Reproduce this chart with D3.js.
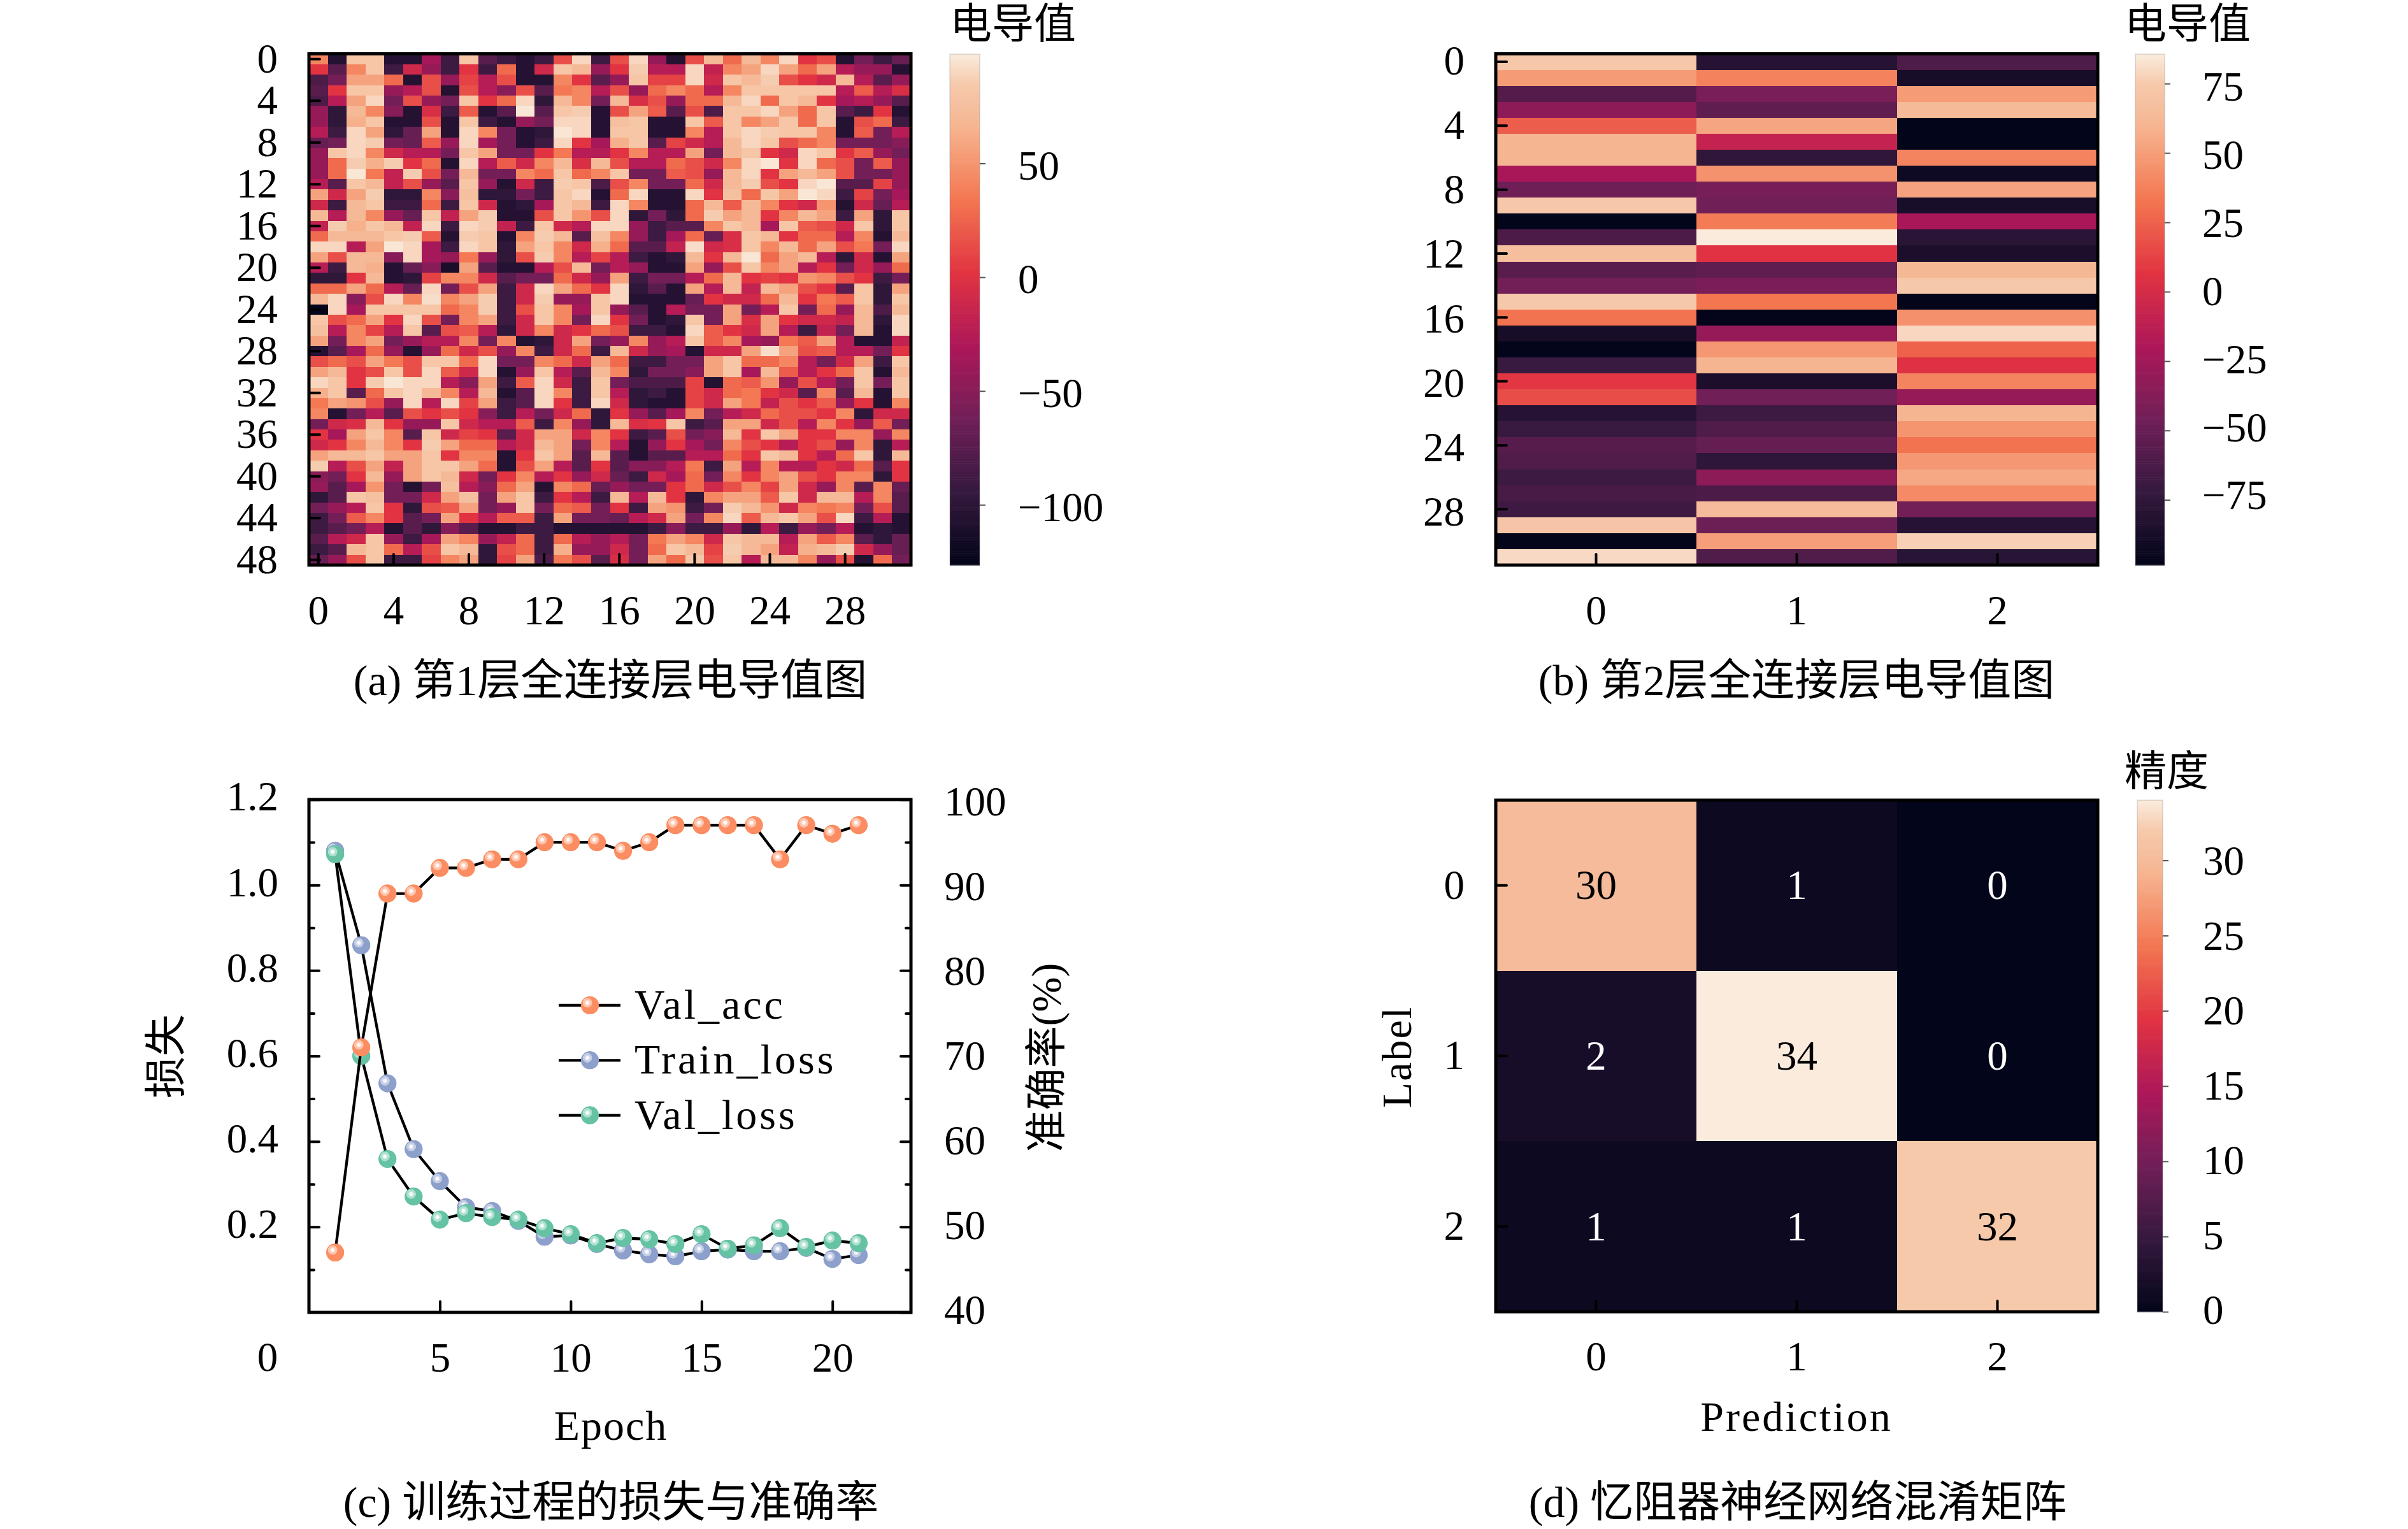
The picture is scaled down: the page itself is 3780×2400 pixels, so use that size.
<!DOCTYPE html>
<html>
<head>
<meta charset="utf-8">
<script src="https://cdn.jsdelivr.net/npm/d3@7/dist/d3.min.js"></script>
<style>
html,body{margin:0;padding:0;background:#fff}
text{font-family:"Liberation Serif","Noto Sans CJK SC",serif;fill:#000}
</style>
</head>
<body>
<svg id="chart" width="3780" height="2400" xmlns="http://www.w3.org/2000/svg"></svg>
<script>
// ---------- DATA ----------
const conductanceLayer1 = [
[42,-105,82,82,-105,-105,-34,-90,82,-75,-90,-105,-90,15,90,-90,15,90,-42,-105,15,70,28,70,42,90,2,15,-105,-60,-90,-68],
[2,-75,42,82,-90,-10,-42,-90,2,-90,28,-105,-10,82,70,-42,2,86,-25,-25,90,-18,42,57,90,57,28,57,-25,-42,-42,-105],
[-82,-60,57,57,28,-105,15,-42,9,-25,15,-105,-105,42,2,-75,-42,82,9,9,90,-10,82,70,86,15,2,-10,70,-25,-75,-42],
[-75,2,82,82,-42,-25,15,-105,15,-25,-50,15,-75,35,42,-25,15,-42,28,42,28,-25,42,82,82,82,82,82,-25,21,-25,-4],
[-82,-25,57,90,-60,15,-42,-60,82,2,28,90,-98,70,42,-60,70,-4,15,-42,28,28,70,90,28,82,70,2,-34,-25,-42,-75],
[-42,-98,70,42,-50,-105,-4,-90,21,-105,-75,96,-75,82,86,-105,15,57,21,-75,15,-82,82,82,90,57,28,82,-75,-90,2,-105],
[-42,-98,64,82,-105,-105,15,-105,82,-90,-105,-42,-60,90,90,-105,76,82,-105,-105,82,21,82,42,57,82,28,82,-105,15,28,-90],
[-25,-90,90,57,-98,-68,57,-105,90,42,-60,-105,-98,96,90,-105,82,82,-105,-105,42,-25,82,90,86,82,82,42,-105,21,-60,-25],
[-68,-60,90,86,-60,-68,21,-42,90,-34,-60,-105,-90,90,2,-34,64,82,-75,9,-10,-25,70,90,82,15,28,42,-60,-60,-60,-50],
[-42,82,90,42,-10,-25,-25,-60,82,57,-60,-60,2,35,-25,-25,2,42,-25,-25,57,-60,70,82,2,-10,90,82,2,21,-42,-60],
[-42,28,86,64,86,2,28,-105,90,-25,21,-10,42,70,-4,70,15,-25,-25,28,15,-10,42,90,96,2,90,28,15,-60,21,-42],
[-42,28,96,35,-18,86,15,-60,70,-60,-60,42,28,82,28,42,82,-60,-60,21,15,-42,70,90,2,57,70,57,15,-60,-60,-42],
[-25,-75,82,70,-18,15,-42,-75,82,-42,-105,-10,-90,86,82,-82,15,42,-60,-60,28,-10,70,86,15,2,90,96,-75,-75,9,-42],
[57,-10,57,86,-98,-98,42,-50,76,-98,-98,-60,-90,82,90,-105,28,90,-105,-105,90,2,76,28,82,57,96,90,-90,9,-60,-34],
[-10,-90,70,82,-90,-90,28,-90,82,-10,-105,-98,-34,82,70,-90,90,42,-105,-105,28,70,21,70,42,2,-10,50,-105,-10,-68,-25],
[70,-25,70,42,-42,-68,82,-18,57,86,-105,-105,15,82,50,15,90,-98,-60,-98,28,86,57,70,2,42,70,57,-90,57,-98,82],
[-18,86,64,82,70,-18,90,-90,90,86,-18,-90,82,-10,-25,90,90,-42,-90,-75,-75,42,82,70,-34,82,21,15,-10,82,-98,82],
[28,70,70,70,82,86,21,-105,86,82,-105,42,86,70,-75,76,42,-42,-90,-34,28,-68,-4,82,70,2,28,28,-25,42,-105,70],
[90,90,-25,57,96,90,-34,-90,90,82,-98,57,82,42,-10,64,28,-75,-75,-18,93,-10,-4,82,42,70,28,57,15,35,-60,90],
[57,15,70,70,-50,90,-34,-42,35,-42,-98,15,86,42,-25,9,-25,-90,-105,-98,70,2,70,96,28,57,70,-25,-98,-10,-105,57],
[-25,-90,70,64,-105,-68,-50,-112,57,-75,-105,-105,-25,15,70,-60,-25,-42,-105,-105,57,-42,15,82,42,57,-25,2,-60,-10,-42,28],
[-98,-98,2,70,-105,-98,9,42,42,-10,-75,-60,-60,28,-10,-42,57,-90,-60,-60,-25,28,70,2,9,2,50,42,15,2,-90,-60],
[28,28,57,28,-25,-68,90,-60,15,57,-90,-10,90,57,28,2,90,-98,-75,-105,57,-25,70,-18,70,57,15,2,-75,82,-98,57],
[70,90,-50,15,90,42,93,42,57,86,-90,-10,86,-42,-42,82,90,-105,-105,-105,-68,2,-10,-10,28,70,2,35,21,82,-98,82],
[-125,90,-34,82,82,82,82,28,42,86,-90,15,82,42,-34,82,-42,-75,-105,-25,-60,-60,57,-60,-25,82,-60,28,-42,70,-82,70],
[82,15,28,57,2,90,15,-60,42,57,-90,-10,82,42,-60,90,2,-60,-105,-98,82,-60,57,-4,57,2,-10,-10,-18,70,-98,90],
[76,-25,42,9,-25,82,-75,15,21,-25,-98,-10,42,-10,2,28,15,-90,-90,-105,90,21,2,-10,57,-25,-90,-18,-60,70,-105,90],
[57,-60,42,57,-60,-42,-25,-25,42,-60,42,-105,-98,-10,57,-60,-42,42,-42,-25,82,21,42,-34,-42,35,21,57,-25,-105,-105,-18],
[-105,-75,-34,28,-42,-105,-42,28,-10,15,-42,42,-90,-10,28,-90,70,-10,-42,-34,-105,-10,-10,57,93,57,15,21,-25,-25,-60,2],
[15,28,15,57,35,15,82,82,28,90,-60,-60,42,28,-10,57,28,-90,-90,-60,-60,57,82,28,28,42,-25,-60,-10,57,-90,82],
[57,70,2,15,82,15,90,21,-10,90,-105,-42,82,-25,-75,70,42,-98,-60,-60,-50,57,82,-34,70,21,-25,2,28,82,-105,70],
[90,82,2,86,96,90,90,-25,-50,57,-90,21,90,-10,-90,82,-60,-82,-82,-82,9,-105,28,21,50,-42,15,-25,-60,82,-60,82],
[64,82,-75,28,82,90,70,42,-25,70,-105,-75,90,42,-90,82,-25,-98,-90,-105,9,-10,28,35,2,-10,-75,42,-75,70,-105,82],
[35,57,50,15,-42,90,-25,90,9,57,-90,-75,90,2,-90,90,-10,-98,-105,-105,9,-10,57,35,-18,15,2,21,-42,2,-105,42],
[42,-105,-60,-25,-75,15,2,15,2,-50,-90,-25,-60,-10,28,-98,2,-42,-75,-34,42,-60,-25,-10,28,15,15,2,42,-98,-10,-10],
[-60,-10,-4,70,2,-42,-42,82,-10,-25,-25,21,-90,42,-42,-98,70,-4,2,82,-90,-75,57,57,-10,15,-25,42,2,-42,21,-60],
[2,-34,57,82,42,-75,82,-10,9,2,-75,-10,57,57,-10,42,2,-90,-75,15,-60,-50,70,2,82,57,2,2,42,42,-42,42],
[-10,2,42,70,42,2,86,57,28,28,-25,-10,70,57,-60,42,-25,-105,-42,2,-34,-60,42,15,2,-25,2,15,-42,42,-98,-25],
[57,70,70,82,57,57,82,2,42,42,-105,2,82,57,-75,70,-75,-105,-75,-75,-25,-25,28,2,82,70,2,-25,28,82,-98,70],
[86,-25,15,57,-18,57,82,82,57,28,-105,15,57,-25,-75,2,-75,-50,-50,-25,35,-90,57,-25,42,-25,-25,2,-10,28,-75,2],
[-50,-60,2,70,-42,57,82,70,-10,-60,2,42,-25,2,-42,-10,-68,-90,-10,-34,28,-60,42,2,42,57,15,2,42,42,-98,2],
[-42,-75,-34,50,-60,-105,-60,76,-25,-50,28,57,-105,42,28,-68,-42,-60,-60,2,28,-10,15,42,9,57,-10,-42,42,-75,42,-68],
[-98,-75,82,76,-60,-60,-10,57,76,-60,57,82,-90,2,-25,-90,70,-25,70,2,-98,42,57,57,21,82,-10,70,70,-25,42,-75],
[-60,-42,-25,82,2,-98,15,21,57,-60,-42,82,-60,28,21,-60,2,-90,57,50,-90,-60,86,70,50,-10,42,35,42,-60,15,-75],
[-90,-60,21,42,2,-75,-60,57,2,-25,21,21,-90,57,-60,-60,-68,-25,-10,57,-60,42,90,21,70,82,57,15,90,-90,-25,-105],
[-90,-75,-60,-25,-105,-75,-98,-50,-75,-105,-105,-90,-90,-105,-105,-105,-105,-105,-90,-50,-90,-90,-42,-98,-25,-90,-42,-60,-25,-105,-98,-105],
[-75,-25,-10,82,-42,-90,-34,57,42,-42,-18,28,-90,28,-25,-42,-25,-60,35,57,42,-10,82,70,70,-25,57,21,42,-75,-98,-68],
[-90,-75,70,82,28,-25,15,82,70,-98,15,28,-90,64,-42,-42,-10,-60,28,82,70,9,86,70,57,-18,64,70,86,-10,-42,-68],
[-68,-42,15,82,-90,-90,9,42,57,-98,9,57,-82,35,15,-75,-4,-60,57,28,82,15,82,-25,70,70,42,-42,15,-105,28,-60]
];
const conductanceLayer2 = [
[73,-80,-61],[49,38,-88],[-58,-42,49],[-34,-53,63],[23,53,-99],[60,-8,-99],[60,-75,39],[-21,45,-92],
[-47,-43,52],[73,-46,-87],[-99,35,-21],[-62,86,-78],[66,6,-86],[-56,-53,62],[-45,-41,74],[74,33,-98],
[32,-98,44],[-88,-29,79],[-98,47,25],[-71,60,5],[8,-85,39],[17,-46,-29],[-80,-69,60],[-71,-60,46],
[-57,-51,32],[-60,-76,47],[-69,-34,54],[-64,-62,42],[-68,64,-45],[72,-48,-80],[-98,50,77],[80,-60,-79]
];
const confusionMatrix = [[30,1,0],[2,34,0],[1,1,32]];

const rowTicksA = [0,4,8,12,16,20,24,28,32,36,40,44,48];
const colTicksA = [0,4,8,12,16,20,24,28];
const rowTicksB = [0,4,8,12,16,20,24,28];
const colTicksB = [0,1,2];
const barTicksA = [50,0,-50,-100];
const barTicksB = [75,50,25,0,-25,-50,-75];
const barTicksD = [30,25,20,15,10,5,0];
const rangeA = [-126.5,98];
const rangeB = [-98.5,85.6];
const rangeD = [0,34];

const epochs = [1,2,3,4,5,6,7,8,9,10,11,12,13,14,15,16,17,18,19,20,21];
const valAcc = [47,71,89,89,92,92,93,93,95,95,95,94,95,97,97,97,97,93,97,96,97];
const trainLoss = [1.08,0.859,0.536,0.382,0.307,0.246,0.237,0.214,0.177,0.18,0.16,0.145,0.136,0.131,0.143,0.147,0.143,0.143,0.151,0.125,0.134];
const valLoss = [1.072,0.6,0.359,0.271,0.217,0.232,0.223,0.217,0.197,0.183,0.162,0.174,0.171,0.16,0.183,0.149,0.157,0.197,0.153,0.168,0.162];
const lossTicks = [0.2,0.4,0.6,0.8,1.0,1.2];
const lossMinor = [0.1,0.3,0.5,0.7,0.9,1.1];
const accTicks = [40,50,60,70,80,90,100];
const accMinor = [45,55,65,75,85,95];
const epochTicks = [5,10,15,20];

const captions = ["(a) 第1层全连接层电导值图","(b) 第2层全连接层电导值图","(c) 训练过程的损失与准确率","(d) 忆阻器神经网络混淆矩阵"];

// ---------- STYLE ----------
const rocketT = [0,1/7,2/7,3/7,4/7,5/7,6/7,0.882,0.941,1];
const rocketC = ["#03051a","#35193e","#701f57","#ad1759","#e13342","#f37651","#f6b48f","#f5bb9a","#f6c9ab","#faebdd"];
const rocket = d3.scaleLinear().domain(rocketT).range(rocketC).clamp(true);
const FS = 65, FSL = 66, FSC = 68, SPINE = 5;

const svg = d3.select("#chart");
svg.append("rect").attr("width",3780).attr("height",2400).attr("fill","#fff");
const defs = svg.append("defs");

function styleAxis(g, size){
  g.select(".domain").remove();
  g.selectAll(".tick line").attr("stroke","#000").attr("stroke-width",4).attr("stroke-linecap","round");
  g.selectAll(".tick text").attr("font-size",size||FS).attr("font-family",'"Liberation Serif",serif').attr("fill","#000");
}
// places tick labels on their own linear spacing: fit = [v0, y0, v1, y1], y of the label centres
function fitLabels(g, pos, fit){
  const s=d3.scaleLinear().domain([fit[0],fit[2]]).range([fit[1],fit[3]]);
  g.selectAll(".tick text").attr("dy","0.338em").attr("y",d=>s(d)-pos(d));
}
function frame(box){
  svg.append("rect").attr("x",box.x0).attr("y",box.y0).attr("width",box.x1-box.x0).attr("height",box.y1-box.y0)
    .attr("fill","none").attr("stroke","#000").attr("stroke-width",SPINE);
}
function label(txt,x,y,o){
  o=o||{};
  const t=svg.append("text").text(txt).attr("font-size",o.size||FSL).attr("text-anchor",o.anchor||"middle");
  if(o.ls) t.attr("letter-spacing",o.ls);
  t.attr("transform",`translate(${x},${y})`+(o.rot?` rotate(${o.rot})`:""));
  return t;
}
function heatmap(box, matrix, range, xTicks, yTicks, xPad, yFit){
  const nR=matrix.length, nC=matrix[0].length;
  const x=d3.scaleBand().domain(d3.range(nC)).range([box.x0,box.x1]);
  const y=d3.scaleBand().domain(d3.range(nR)).range([box.y0,box.y1]);
  const t=d3.scaleLinear().domain(range).range([0,1]);
  const g=svg.append("g");
  matrix.forEach((row,r)=>row.forEach((v,c)=>{
    g.append("rect").attr("x",x(c)).attr("y",y(r)).attr("width",x.bandwidth()+0.5).attr("height",y.bandwidth()+0.5)
      .attr("fill",rocket(t(v))).attr("shape-rendering","crispEdges");
  }));
  const ax=svg.append("g").attr("transform",`translate(0,${box.y1})`)
    .call(d3.axisBottom(x).tickValues(xTicks).tickSizeInner(-17).tickSizeOuter(0).tickPadding(xPad));
  styleAxis(ax);
  const ay=svg.append("g").attr("transform",`translate(${box.x0},0)`)
    .call(d3.axisLeft(y).tickValues(yTicks).tickSizeInner(-17).tickSizeOuter(0).tickPadding(49));
  styleAxis(ay);
  if(yFit) fitLabels(ay,d=>y(d)+y.bandwidth()/2,yFit);
  frame(box);
  return {x,y};
}
function colorbar(x0,x1,y0,y1,range,ticks,pad,fit){
  const y=d3.scaleLinear().domain(range).range([y1,y0]);
  const t=d3.scaleLinear().domain(range).range([0,1]);
  const n=256, g=svg.append("g");
  d3.range(n).forEach(i=>{
    const v0=range[0]+(range[1]-range[0])*i/n, v1=range[0]+(range[1]-range[0])*(i+1)/n;
    g.append("rect").attr("x",x0).attr("width",x1-x0).attr("y",y(v1)).attr("height",y(v0)-y(v1)+0.6)
      .attr("fill",rocket(t((v0+v1)/2)));
  });
  svg.append("rect").attr("x",x0).attr("y",y0).attr("width",x1-x0).attr("height",y1-y0)
    .attr("fill","none").attr("stroke","#999").attr("stroke-opacity",0.35).attr("stroke-width",1.5);
  const a=svg.append("g").attr("transform",`translate(${x1},0)`)
    .call(d3.axisRight(y).tickValues(ticks).tickSizeInner(9).tickSizeOuter(0).tickPadding(pad));
  a.select(".domain").remove();
  a.selectAll(".tick line").attr("stroke","#555").attr("stroke-width",2);
  a.selectAll(".tick text").attr("font-size",FS).attr("font-family",'"Liberation Serif",serif').attr("dy","0.38em");
  if(fit) fitLabels(a,y,fit);
}

// ---------- PANEL A ----------
const boxA={x0:485,x1:1430,y0:84.5,y1:887};
heatmap(boxA,conductanceLayer1,rangeA,colTicksA,rowTicksA,47);
colorbar(1491,1538,85,887,rangeA,barTicksA,51);
label("电导值",1491,60,{anchor:"start"});
label(captions[0],958,1091,{size:FSC});

// ---------- PANEL B ----------
const boxB={x0:2348,x1:3293,y0:84.5,y1:887};
heatmap(boxB,conductanceLayer2,rangeB,colTicksB,rowTicksB,47,[0,95,28,803]);
colorbar(3352,3398,85,887,rangeB,barTicksB,50,[75,136,-75,777]);
label("电导值",3335,60,{anchor:"start"});
label(captions[1],2820,1091,{size:FSC});

// ---------- PANEL C ----------
const boxC={x0:485,x1:1430,y0:1255,y1:2060};
const xC=d3.scaleLinear().domain([0,23]).range([boxC.x0,boxC.x1]);
const yLoss=d3.scaleLinear().domain([0,1.2]).range([boxC.y1,boxC.y0]);
const yAcc=d3.scaleLinear().domain([40,100]).range([boxC.y1,boxC.y0]);

const seriesC=[
  {name:"Train_loss",color:"#8da0cb",halo:"#c3cde4",id:"gBlue",vals:trainLoss,y:yLoss},
  {name:"Val_loss",color:"#66c2a5",halo:"#aee0cf",id:"gGreen",vals:valLoss,y:yLoss},
  {name:"Val_acc",color:"#fc8d62",halo:"#fdc4ab",id:"gOrange",vals:valAcc,y:yAcc}
];
seriesC.forEach(s=>{
  const gr=defs.append("radialGradient").attr("id",s.id).attr("cx","0.36").attr("cy","0.36").attr("r","0.27");
  gr.append("stop").attr("offset","0").attr("stop-color","#fff");
  gr.append("stop").attr("offset","0.3").attr("stop-color","#fff").attr("stop-opacity",0.9);
  gr.append("stop").attr("offset","0.6").attr("stop-color",s.halo);
  gr.append("stop").attr("offset","0.95").attr("stop-color",s.halo);
  gr.append("stop").attr("offset","1").attr("stop-color",s.color);
});
const lineGen=(y)=>d3.line().x((d,i)=>xC(epochs[i])).y(d=>y(d));
seriesC.forEach(s=>{
  svg.append("path").attr("d",lineGen(s.y)(s.vals)).attr("fill","none").attr("stroke","#000").attr("stroke-width",4.3);
  const g=svg.append("g");
  g.selectAll("circle.base").data(s.vals).join("circle").attr("class","base")
    .attr("cx",(d,i)=>xC(epochs[i])).attr("cy",d=>s.y(d)).attr("r",14).attr("fill",s.color);
  g.selectAll("circle.hi").data(s.vals).join("circle").attr("class","hi")
    .attr("cx",(d,i)=>xC(epochs[i])).attr("cy",d=>s.y(d)).attr("r",14).attr("fill",`url(#${s.id})`);
});
// axes of panel C
const cb=svg.append("g").attr("transform",`translate(0,${boxC.y1})`)
  .call(d3.axisBottom(xC).tickValues(epochTicks).tickSizeInner(-17).tickSizeOuter(0).tickPadding(47).tickFormat(d3.format("d")));
styleAxis(cb);
const cl=svg.append("g").attr("transform",`translate(${boxC.x0},0)`)
  .call(d3.axisLeft(yLoss).tickValues(lossTicks).tickSizeInner(-16).tickSizeOuter(0).tickPadding(48).tickFormat(d3.format(".1f")));
styleAxis(cl);
cl.selectAll(".tick text").attr("dy","0.26em");
const clm=svg.append("g").attr("transform",`translate(${boxC.x0},0)`)
  .call(d3.axisLeft(yLoss).tickValues(lossMinor).tickSizeInner(-8).tickSizeOuter(0).tickFormat(""));
styleAxis(clm);
const cr=svg.append("g").attr("transform",`translate(${boxC.x1},0)`)
  .call(d3.axisRight(yAcc).tickValues(accTicks).tickSizeInner(-16).tickSizeOuter(0).tickPadding(52));
styleAxis(cr);
fitLabels(cr,yAcc,[100,1258,40,2056]);
const crm=svg.append("g").attr("transform",`translate(${boxC.x1},0)`)
  .call(d3.axisRight(yAcc).tickValues(accMinor).tickSizeInner(-8).tickSizeOuter(0).tickFormat(""));
styleAxis(crm);
frame(boxC);
label("0",xC(0)-65,2152,{size:FS});
label("损失",283,1658,{rot:-90});
label("准确率(%)",1665,1660,{rot:-90});
label("Epoch",959,2260,{ls:2});
label(captions[2],959,2381,{size:FSC});

// legend
["Val_acc","Train_loss","Val_loss"].forEach((name,i)=>{
  const s=seriesC.find(d=>d.name===name);
  const ly=1578+i*86.3;
  svg.append("line").attr("x1",877).attr("x2",974).attr("y1",ly).attr("y2",ly).attr("stroke","#000").attr("stroke-width",4.3);
  svg.append("circle").attr("cx",926).attr("cy",ly).attr("r",14).attr("fill",s.color);
  svg.append("circle").attr("cx",926).attr("cy",ly).attr("r",14).attr("fill",`url(#${s.id})`);
  label(name,996,ly+21,{anchor:"start",ls:4});
});

// ---------- PANEL D ----------
const boxD={x0:2348,x1:3293,y0:1256,y1:2059};
const hd=heatmap(boxD,confusionMatrix,rangeD,colTicksB,colTicksB,46);
svg.append("g").selectAll("g").data(confusionMatrix).join("g").each(function(row,r){
  d3.select(this).selectAll("text").data(row).join("text")
    .attr("x",(d,c)=>hd.x(c)+hd.x.bandwidth()/2).attr("y",hd.y(r)+hd.y.bandwidth()/2)
    .attr("dy","0.33em").attr("text-anchor","middle").attr("font-size",FS)
    .style("fill",d=>d>17?"#000":"#fff").text(d=>d);
});
colorbar(3355,3395,1256,2059,rangeD,barTicksD,54,[30,1351,0,2056]);
label("精度",3335,1233,{anchor:"start"});
label("Label",2215,1659,{rot:-90,ls:2});
label("Prediction",2820,2246,{ls:3});
label(captions[3],2822,2381,{size:FSC});
</script>
</body>
</html>
